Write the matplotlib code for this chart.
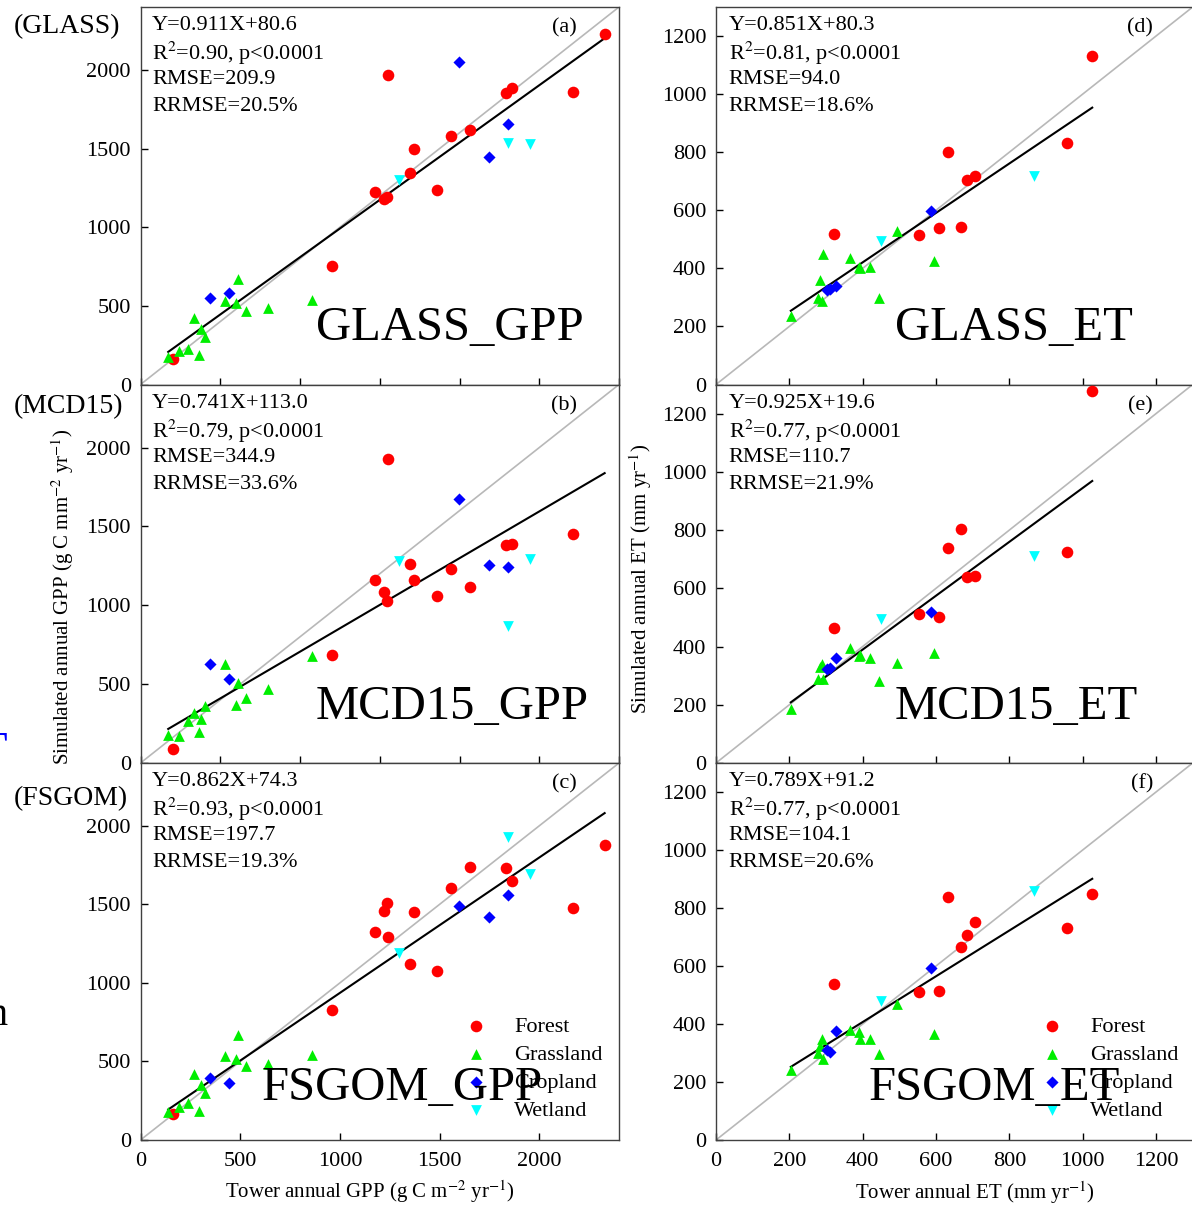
import matplotlib
matplotlib.use("Agg")
import matplotlib.pyplot as plt
import numpy as np

plt.rcParams['font.family'] = ['Liberation Serif', 'DejaVu Serif']
plt.rcParams['mathtext.fontset'] = 'stix'

# ---- GPP: tower values (x) per land cover ----
gpp_forest_x = [163, 963, 1178, 1221, 1237, 1240, 1350, 1370, 1486, 1555, 1654, 1831, 1863, 2169, 2328]
gpp_grass_x = [139, 193, 236, 268, 294, 304, 324, 423, 481, 489, 530, 638, 858]
gpp_crop_x = [348, 443, 1599, 1750, 1843]
gpp_wet_x = [1297, 1843, 1956]

# simulated GPP (y) per model
glass_gpp_forest = [165, 753, 1226, 1180, 1195, 1968, 1347, 1497, 1234, 1580, 1616, 1856, 1883, 1860, 2231]
glass_gpp_grass = [174, 216, 227, 420, 187, 350, 301, 530, 520, 668, 467, 484, 539]
glass_gpp_crop = [551, 581, 2053, 1446, 1654]
glass_gpp_wet = [1298, 1538, 1531]

mcd_gpp_forest = [91, 686, 1162, 1083, 1029, 1926, 1261, 1162, 1062, 1231, 1119, 1383, 1390, 1455, np.nan]
mcd_gpp_grass = [180, 173, 264, 317, 194, 279, 359, 629, 370, 507, 412, 469, 676]
mcd_gpp_crop = [629, 534, 1675, 1257, 1240]
mcd_gpp_wet = [1284, 870, 1293]

fsgom_gpp_forest = [165, 825, 1323, 1456, 1507, 1295, 1122, 1454, 1075, 1602, 1740, 1731, 1651, 1477, 1877]
fsgom_gpp_grass = [180, 212, 233, 423, 186, 349, 300, 533, 514, 671, 470, 487, 542]
fsgom_gpp_crop = [392, 364, 1488, 1422, 1558]
fsgom_gpp_wet = [1189, 1926, 1693]

# ---- ET: tower values (x) per land cover ----
et_forest_x = [323, 554, 609, 632, 667, 684, 707, 956, 1026]
et_grass_x = [204, 279, 284, 289, 291, 366, 390, 393, 419, 445, 494, 594]
et_crop_x = [303, 310, 327, 585]
et_wet_x = [451, 866]

glass_et_forest = [520, 515, 538, 802, 541, 705, 718, 833, 1131]
glass_et_grass = [237, 299, 360, 286, 451, 434, 406, 400, 406, 297, 528, 425]
glass_et_crop = [326, 330, 338, 597]
glass_et_wet = [495, 717]

mcd_et_forest = [462, 511, 503, 738, 805, 638, 641, 726, 1278]
mcd_et_grass = [187, 288, 331, 340, 290, 394, 367, 372, 359, 282, 344, 379]
mcd_et_crop = [322, 325, 362, 520]
mcd_et_wet = [494, 710]

fsgom_et_forest = [539, 509, 513, 839, 664, 707, 753, 730, 850]
fsgom_et_grass = [240, 301, 323, 347, 280, 381, 372, 349, 349, 295, 470, 367]
fsgom_et_crop = [312, 305, 375, 593]
fsgom_et_wet = [478, 859]

# regression statistics, order: (a) (b) (c) (d) (e) (f)
slopes = [0.911, 0.741, 0.862, 0.851, 0.925, 0.789]
intercepts = [80.6, 113.0, 74.3, 80.3, 19.6, 91.2]
r2_values = [0.90, 0.79, 0.93, 0.81, 0.77, 0.77]
rmse_values = [209.9, 344.9, 197.7, 94.0, 110.7, 104.1]
rrmse_values = [20.5, 33.6, 19.3, 18.6, 21.9, 20.6]
letters = ['(a)', '(b)', '(c)', '(d)', '(e)', '(f)']
names = ['GLASS_GPP', 'MCD15_GPP', 'FSGOM_GPP', 'GLASS_ET', 'MCD15_ET', 'FSGOM_ET']
row_labels = ['(GLASS)', '(MCD15)', '(FSGOM)']
classes = ['Forest', 'Grassland', 'Cropland', 'Wetland']

# styles
cls_color = ['#ff0000', '#00ee00', '#0000ff', '#00ffff']
cls_marker = ['o', '^', 'D', 'v']
cls_size = [70, 60, 38, 60]

W, H = 1192.0, 1206.0
fig = plt.figure(figsize=(W / 100, H / 100), dpi=100)


def px_axes(l, t, r, b):
    return fig.add_axes([l / W, 1 - b / H, (r - l) / W, (b - t) / H])


tops = [7, 384.5, 763]
bots = [384.5, 763, 1140]

gpp_x = [gpp_forest_x, gpp_grass_x, gpp_crop_x, gpp_wet_x]
et_x = [et_forest_x, et_grass_x, et_crop_x, et_wet_x]
gpp_y = [
    [glass_gpp_forest, glass_gpp_grass, glass_gpp_crop, glass_gpp_wet],
    [mcd_gpp_forest, mcd_gpp_grass, mcd_gpp_crop, mcd_gpp_wet],
    [fsgom_gpp_forest, fsgom_gpp_grass, fsgom_gpp_crop, fsgom_gpp_wet],
]
et_y = [
    [glass_et_forest, glass_et_grass, glass_et_crop, glass_et_wet],
    [mcd_et_forest, mcd_et_grass, mcd_et_crop, mcd_et_wet],
    [fsgom_et_forest, fsgom_et_grass, fsgom_et_crop, fsgom_et_wet],
]

# big name text position (axes fraction, left / center)
name_pos = [(0.367, 0.150), (0.367, 0.148), (0.254, 0.138),
            (0.3755, 0.150), (0.3755, 0.148), (0.319, 0.138)]

line_offsets = [19, 46.5, 73, 99.5]

for col in range(2):
    for row in range(3):
        k = col * 3 + row
        if col == 0:
            ax = px_axes(140.5, tops[row], 619, bots[row])
            lim = 2400
            xs_all = gpp_x
            ys_all = gpp_y[row]
            yt = np.arange(0, 2001, 500)
            xt = np.arange(0, 2001, 500) if row == 2 else np.arange(0, 2401, 400)
            txt_x = 0.024
            let_x = 0.912
        else:
            ax = px_axes(716, tops[row], 1192.7, bots[row])
            lim = 1300
            xs_all = et_x
            ys_all = et_y[row]
            yt = np.arange(0, 1201, 200)
            xt = np.arange(0, 1201, 200)
            txt_x = 0.027
            let_x = 0.917

        ax.set_xlim(0, lim)
        ax.set_ylim(0, lim)
        ax.plot([0, lim], [0, lim], color='#b8b8b8', lw=1.2, zorder=1)

        xmin = min(min(v) for v in xs_all)
        xmax = max(max(v) for v in xs_all)
        xl = np.array([xmin, xmax])
        ax.plot(xl, slopes[k] * xl + intercepts[k], color='black', lw=1.5, zorder=2)

        handles = []
        for i in range(4):
            h = ax.scatter(xs_all[i], ys_all[i], s=cls_size[i], c=cls_color[i],
                           marker=cls_marker[i], linewidths=0, zorder=3,
                           label=classes[i], clip_on=False)
            handles.append(h)

        ax.set_xticks(xt)
        ax.set_yticks(yt)
        ax.tick_params(direction='in', length=5, width=1, labelsize=16, pad=7,
                       colors='black')
        ax.tick_params(axis='x', labelbottom=(row == 2), pad=9)
        for sp in ax.spines.values():
            sp.set_color('#404040')
            sp.set_linewidth(1.0)

        stats = [
            f'Y={slopes[k]:.3f}X+{intercepts[k]:.1f}',
            f'R$^{{2}}$=' + f'{r2_values[k]:.2f}, p<0.0001',
            f'RMSE={rmse_values[k]:.1f}',
            f'RRMSE={rrmse_values[k]:.1f}%',
        ]
        for s, off in zip(stats, line_offsets):
            ax.text(txt_x, 1 - off / 377.5, s, transform=ax.transAxes,
                    fontsize=16, va='center', ha='left')
        ax.text(let_x, 1 - 21 / 377.5, letters[k], transform=ax.transAxes,
                fontsize=16, va='center', ha='right')
        nx, ny = name_pos[k]
        ax.text(nx, ny, names[k], transform=ax.transAxes, fontsize=35,
                va='center', ha='left', zorder=10)

        if row == 2:
            anchor = (0.655, 0.328) if col == 0 else (0.659, 0.328)
            leg = ax.legend(handles=handles, loc='upper left', bbox_to_anchor=anchor,
                            frameon=False, fontsize=16, scatterpoints=1,
                            borderpad=0, borderaxespad=0, labelspacing=0.34,
                            handlelength=2.0, handletextpad=0.7)
            leg.set_zorder(5)

# row labels
for lab, y in zip(row_labels, [27, 407, 799]):
    fig.text(14 / W, 1 - y / H, lab, fontsize=20, va='center', ha='left')

# axis titles
fig.text(63 / W, 1 - 597 / H, 'Simulated annual GPP (g C mm$^{-2}$ yr$^{-1}$)',
         rotation=90, fontsize=15, va='center', ha='center')
fig.text(641 / W, 1 - 579 / H, 'Simulated annual ET (mm yr$^{-1}$)',
         rotation=90, fontsize=15, va='center', ha='center')
fig.text(370 / W, 1 - 1192 / H, 'Tower annual GPP (g C m$^{-2}$ yr$^{-1}$)',
         fontsize=15, va='center', ha='center')
fig.text(975 / W, 1 - 1193 / H, 'Tower annual ET (mm yr$^{-1}$)',
         fontsize=15, va='center', ha='center')

# fragments of neighbouring content cut at the left edge
fig.text(7 / W, 1 - 766 / H, 'T', color='blue', fontsize=36, ha='right', va='baseline')
fig.text(7 / W, 1 - 1025 / H, 'n', color='black', fontsize=29, ha='right', va='baseline')

fig.savefig('out.png', dpi=100)
